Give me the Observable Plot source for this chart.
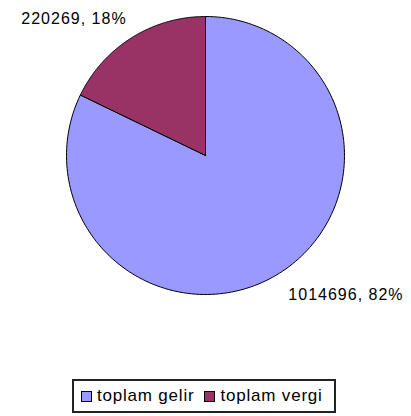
<!DOCTYPE html>
<html><head><meta charset="utf-8">
<script src="https://cdn.jsdelivr.net/npm/d3@7"></script>
<script src="https://cdn.jsdelivr.net/npm/@observablehq/plot@0.6"></script>
<style>
body{margin:0;background:#fff;font-family:"Liberation Sans",Arial,sans-serif;}
#legend{margin:4px 0 0 72px;width:260px;height:30px;border:2px solid #222;display:flex;align-items:center;font-size:17px;letter-spacing:0.8px;color:#000;box-sizing:content-box;}
.item{display:flex;align-items:center;margin-left:7px;}
.item + .item{margin-left:10px;}
.sw{width:9px;height:9px;border:1px solid #000;margin-right:5px;}
</style></head><body>
<div id="chart"></div>
<div id="legend"></div>
<script>
const categories = ["toplam gelir", "toplam vergi"];
const values = [1014696, 220269];
const percents = ["82%", "18%"];
const colors = ["#9999FF", "#993366"];

const W = 411, H = 375, cx = 205, cy = 155, R = 139;

const arcs = d3.pie().sort(null).value(d => d)(values);
const pts = [];
arcs.forEach((a, i) => {
  const cat = categories[i];
  pts.push({cat, x: 0, y: 0});
  const n = 180;
  for (let k = 0; k <= n; k++) {
    const t = a.startAngle + (a.endAngle - a.startAngle) * k / n;
    pts.push({cat, x: Math.sin(t), y: Math.cos(t)});
  }
  pts.push({cat, x: 0, y: 0});
});
const labels = arcs.map((a, i) => {
  const m = (a.startAngle + a.endAngle) / 2;
  return {cat: categories[i], x: Math.sin(m), y: Math.cos(m), text: `${values[i]}, ${percents[i]}`};
});

const chart = Plot.plot({
  width: W, height: H, margin: 0,
  style: {fontFamily: '"Liberation Sans", Arial, sans-serif', letterSpacing: "1px", background: "#fff"},
  x: {domain: [-cx / R, (W - cx) / R], axis: null},
  y: {domain: [(cy - H) / R, cy / R], axis: null},
  color: {domain: categories, range: colors},
  marks: [
    Plot.line(pts, {x: "x", y: "y", z: "cat", fill: "cat", stroke: "#000", strokeWidth: 1, curve: "linear"}),
    Plot.text(labels.filter(d => d.cat === categories[1]), {x: "x", y: "y", text: "text", textAnchor: "end", dx: -5, dy: -19, fontSize: 16, fill: "#000"}),
    Plot.text(labels.filter(d => d.cat === categories[0]), {x: "x", y: "y", text: "text", textAnchor: "start", dx: 9, dy: 22, fontSize: 16, fill: "#000"})
  ]
});
document.getElementById("chart").appendChild(chart);

const legend = document.getElementById("legend");
categories.forEach((c, i) => {
  const it = document.createElement("div");
  it.className = "item";
  const sw = document.createElement("span");
  sw.className = "sw";
  sw.style.background = colors[i];
  const tx = document.createElement("span");
  tx.textContent = c;
  it.appendChild(sw); it.appendChild(tx);
  legend.appendChild(it);
});
</script>
</body></html>
